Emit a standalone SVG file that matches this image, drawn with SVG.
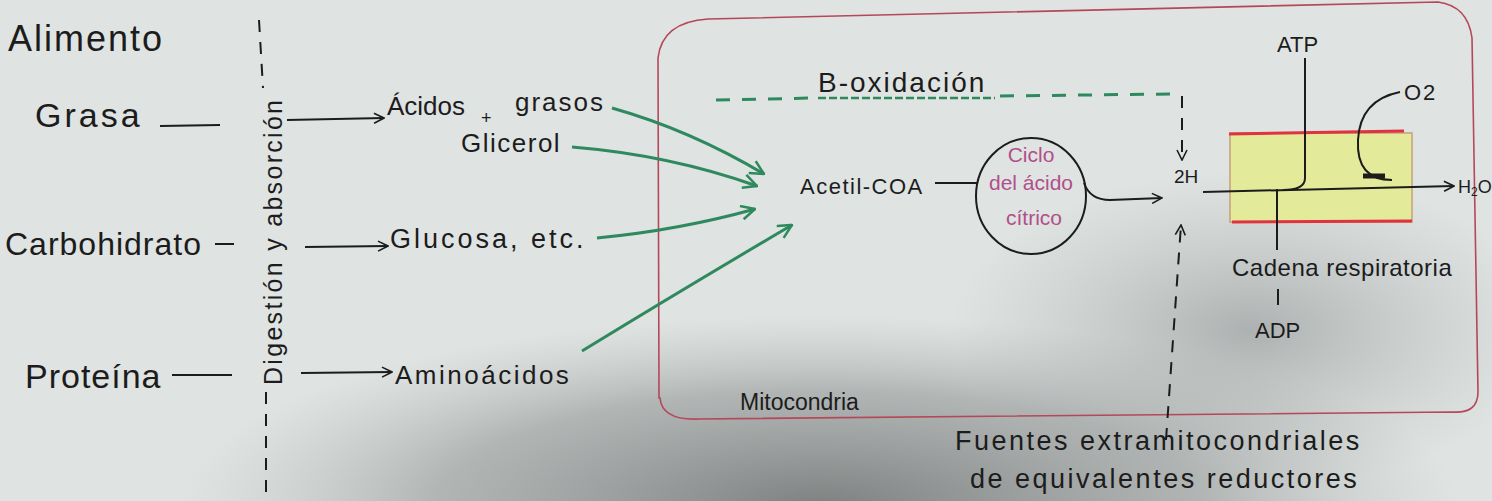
<svg xmlns="http://www.w3.org/2000/svg" width="1492" height="501" viewBox="0 0 1492 501">
<defs>
<style>
.t{font-family:"Liberation Sans",Arial,sans-serif;fill:#1c1c1c}
.pk{font-family:"Liberation Sans",Arial,sans-serif;fill:#b0508a}
.ln{stroke:#1c1c1c;stroke-width:2;fill:none}
.gr{stroke:#2e8a5e;stroke-width:3;fill:none}
.dash{stroke:#1c1c1c;stroke-width:2;fill:none;stroke-dasharray:12 10}
.gdash{stroke:#2e8a5e;stroke-width:3;fill:none;stroke-dasharray:14 12}
</style>
<marker id="open" viewBox="0 0 12 12" refX="11" refY="6" markerWidth="12" markerHeight="12" markerUnits="userSpaceOnUse" orient="auto">
<path d="M1,1 L11,6 L1,11" fill="none" stroke="#1c1c1c" stroke-width="1.6"/>
</marker>
<marker id="gopen" viewBox="0 0 14 14" refX="13" refY="7" markerWidth="16" markerHeight="16" markerUnits="userSpaceOnUse" orient="auto">
<path d="M1,1 L13,7 L1,13" fill="none" stroke="#2e8a5e" stroke-width="2.2"/>
</marker>
<radialGradient id="sh" cx="0.5" cy="0.5" r="0.5">
<stop offset="0" stop-color="#4a4d4d" stop-opacity="0.65"/>
<stop offset="0.6" stop-color="#6c7070" stop-opacity="0.4"/>
<stop offset="1" stop-color="#9a9e9e" stop-opacity="0"/>
</radialGradient>
<radialGradient id="sh2" cx="0.5" cy="0.5" r="0.5">
<stop offset="0" stop-color="#7a7e7e" stop-opacity="0.5"/>
<stop offset="1" stop-color="#9a9e9e" stop-opacity="0"/>
</radialGradient>
</defs>
<rect width="1492" height="501" fill="#dfe3e2"/>
<ellipse cx="820" cy="505" rx="640" ry="190" fill="url(#sh)"/>
<ellipse cx="1250" cy="330" rx="300" ry="160" fill="url(#sh2)"/>

<g id="mitocondria">
<path d="M659,398 L658,58 Q662,22 708,19 L1438,2 Q1468,6 1472,38 L1478,392 Q1478,414 1452,412 L700,419 Q662,421 660,398 Z" fill="none" stroke="#b5475a" stroke-width="1.6"/>
<text class="t" x="740" y="410" font-size="23">Mitocondria</text>
</g>

<g id="alimento"><text class="t" x="8" y="51" font-size="36" letter-spacing="2">Alimento</text></g>
<g id="grasa"><text class="t" x="35" y="127" font-size="34" letter-spacing="3">Grasa</text></g>
<g id="carbohidrato"><text class="t" x="5" y="255" font-size="32" letter-spacing="1">Carbohidrato</text></g>
<g id="proteina"><text class="t" x="25" y="388" font-size="34" letter-spacing="1">Proteína</text></g>

<g id="digestion">
<text class="t" font-size="25" letter-spacing="2.3" transform="translate(282,385) rotate(-90)">Digestión y absorción</text>
</g>

<g id="acidos">
<text class="t" x="387" y="115" font-size="26">Ácidos</text>
<text class="t" x="515" y="111" font-size="26" letter-spacing="2">grasos</text>
<text class="t" x="481" y="124" font-size="18">+</text>
<text class="t" x="461" y="152" font-size="26" letter-spacing="1.5">Glicerol</text>
</g>
<g id="glucosa"><text class="t" x="390" y="248" font-size="27" letter-spacing="3">Glucosa, etc.</text></g>
<g id="aminoacidos"><text class="t" x="395" y="384" font-size="26" letter-spacing="2.5">Aminoácidos</text></g>

<g id="boxidacion">
<text class="t" x="818" y="92" font-size="28" letter-spacing="2">B-oxidación</text>
</g>
<g id="acetil"><text class="t" x="800" y="194" font-size="22" letter-spacing="1.5">Acetil-COA</text></g>

<g id="ciclo">
<ellipse cx="1031" cy="196" rx="55" ry="58" fill="none" stroke="#1c1c1c" stroke-width="2"/>
<text class="pk" x="1031" y="162" font-size="21" text-anchor="middle">Ciclo</text>
<text class="pk" x="1031" y="190" font-size="21" text-anchor="middle">del ácido</text>
<text class="pk" x="1034" y="225" font-size="21" text-anchor="middle">cítrico</text>
</g>

<g id="h2">
<text class="t" x="1174" y="183" font-size="19">2H</text>
</g>

<g id="cadena">
<rect x="1230" y="133" width="182" height="89" fill="#e3eb9a" stroke="#c8a07a" stroke-width="1.5"/>
<line x1="1229" y1="134" x2="1404" y2="131" stroke="#e0333f" stroke-width="3"/>
<line x1="1232" y1="222" x2="1412" y2="221" stroke="#e0333f" stroke-width="3"/>
<text class="t" x="1232" y="276" font-size="24" letter-spacing="0.5">Cadena respiratoria</text>
</g>
<g id="atp"><text class="t" x="1277" y="52" font-size="22">ATP</text></g>
<g id="o2"><text class="t" x="1404" y="100" font-size="22" letter-spacing="2">O2</text></g>
<g id="h2o"><text class="t" x="1458" y="193" font-size="18">H<tspan font-size="12" dy="3">2</tspan><tspan dy="-3">O</tspan></text></g>
<g id="adp"><text class="t" x="1255" y="338" font-size="22">ADP</text></g>

<g id="fuentes">
<text class="t" x="955" y="450" font-size="27" letter-spacing="2.5">Fuentes extramitocondriales</text>
<text class="t" x="970" y="488" font-size="27" letter-spacing="2.5">de equivalentes reductores</text>
</g>

<g id="connectors">
<line x1="259" y1="20" x2="263" y2="88" class="dash"/>
<line x1="266" y1="392" x2="266" y2="501" class="dash"/>
<line x1="160" y1="126" x2="220" y2="125" class="ln"/>
<line x1="215" y1="244" x2="234" y2="244" class="ln"/>
<line x1="172" y1="375" x2="232" y2="375" class="ln"/>
<line x1="287" y1="120" x2="384" y2="118" class="ln" marker-end="url(#open)"/>
<line x1="305" y1="247" x2="388" y2="246" class="ln" marker-end="url(#open)"/>
<line x1="301" y1="373" x2="392" y2="372" class="ln" marker-end="url(#open)"/>
<path d="M612,108 Q690,130 764,174" class="gr" marker-end="url(#gopen)"/>
<path d="M572,147 Q670,155 757,186" class="gr" marker-end="url(#gopen)"/>
<path d="M597,238 Q680,230 755,209" class="gr" marker-end="url(#gopen)"/>
<path d="M582,351 Q690,285 792,225" class="gr" stroke="#4d9a7a" marker-end="url(#gopen)"/>
<line x1="716" y1="100" x2="814" y2="98" class="gdash"/>
<line x1="818" y1="98" x2="995" y2="98" stroke="#2e8a5e" stroke-width="2.5" stroke-dasharray="8 3"/>
<line x1="1000" y1="96" x2="1170" y2="94" class="gdash"/>
<path d="M1182,96 L1182,160" class="dash" stroke="#333" marker-end="url(#open)"/>
<line x1="935" y1="183" x2="977" y2="183" class="ln"/>
<path d="M1084,183 Q1090,200 1110,200 L1162,198" class="ln" marker-end="url(#open)"/>
<path d="M1166,440 L1181,225" class="dash" marker-end="url(#open)"/>
<line x1="1203" y1="192" x2="1454" y2="186" class="ln" marker-end="url(#open)"/>
<path d="M1305,58 L1305,178 Q1305,190 1283,190" class="ln"/>
<path d="M1400,92 Q1360,100 1358,140 Q1356,180 1392,180" class="ln"/>
<path d="M1363,176 L1385,176" stroke="#1c1c1c" stroke-width="5"/>
<line x1="1277" y1="189" x2="1277" y2="250" class="ln"/>
<line x1="1278" y1="289" x2="1278" y2="305" class="ln"/>
</g>
</svg>
